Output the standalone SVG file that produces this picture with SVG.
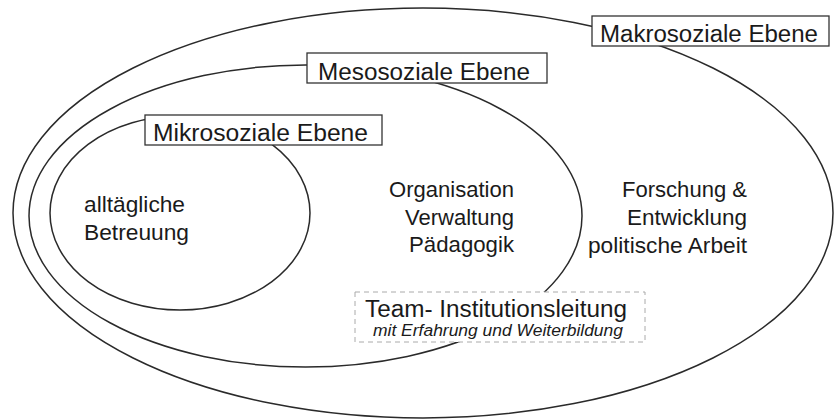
<svg xmlns="http://www.w3.org/2000/svg" width="834" height="419" viewBox="0 0 834 419">
<style>
.ring{fill:none;stroke:#2a2a2a;stroke-width:1.5}
.lbl{fill:#fff;stroke:#333;stroke-width:1.3}
.dash{fill:#fff;stroke:#aaa;stroke-width:1;stroke-dasharray:5 4}
text{font-family:"Liberation Sans",Arial,Helvetica,sans-serif;fill:#1a1a1a}
.lt{font-size:23px}
.bt{font-size:22px}
.it{font-size:16px;font-style:italic}
</style>
<rect width="834" height="419" fill="#fff"/>
<g id="makro">
<ellipse class="ring" cx="423" cy="213" rx="410" ry="205"/>
<rect class="lbl" x="592" y="16" width="237" height="30"/>
<text class="lt" x="600" y="42" textLength="218" lengthAdjust="spacingAndGlyphs">Makrosoziale Ebene</text>
</g>
<g id="meso">
<ellipse class="ring" cx="305.5" cy="216" rx="276.5" ry="151"/>
<rect class="lbl" x="307" y="53" width="240" height="30"/>
<text class="lt" x="318" y="80" textLength="212" lengthAdjust="spacingAndGlyphs">Mesosoziale Ebene</text>
</g>
<g id="mikro">
<ellipse class="ring" cx="180" cy="213" rx="130" ry="97"/>
<rect class="lbl" x="145" y="115" width="237" height="30"/>
<text class="lt" x="153" y="141" textLength="215" lengthAdjust="spacingAndGlyphs">Mikrosoziale Ebene</text>
</g>
<g id="mikro-inhalt">
<text class="bt" x="84" y="212" textLength="101" lengthAdjust="spacingAndGlyphs">alltägliche</text>
<text class="bt" x="84" y="240" textLength="105" lengthAdjust="spacingAndGlyphs">Betreuung</text>
</g>
<g id="meso-inhalt">
<text class="bt" x="389" y="197" textLength="125" lengthAdjust="spacingAndGlyphs">Organisation</text>
<text class="bt" x="405" y="225" textLength="109" lengthAdjust="spacingAndGlyphs">Verwaltung</text>
<text class="bt" x="409" y="252" textLength="105" lengthAdjust="spacingAndGlyphs">Pädagogik</text>
</g>
<g id="makro-inhalt">
<text class="bt" x="622" y="197" textLength="125" lengthAdjust="spacingAndGlyphs">Forschung &amp;</text>
<text class="bt" x="627" y="225" textLength="120" lengthAdjust="spacingAndGlyphs">Entwicklung</text>
<text class="bt" x="588" y="253" textLength="159" lengthAdjust="spacingAndGlyphs">politische Arbeit</text>
</g>
<g id="leitung">
<rect class="dash" x="355" y="292" width="290" height="50"/>
<text class="lt" x="365" y="317" textLength="262" lengthAdjust="spacingAndGlyphs">Team- Institutionsleitung</text>
<text class="it" x="373" y="336" textLength="250" lengthAdjust="spacingAndGlyphs">mit Erfahrung und Weiterbildung</text>
</g>
<g id="connectors"></g>
</svg>
